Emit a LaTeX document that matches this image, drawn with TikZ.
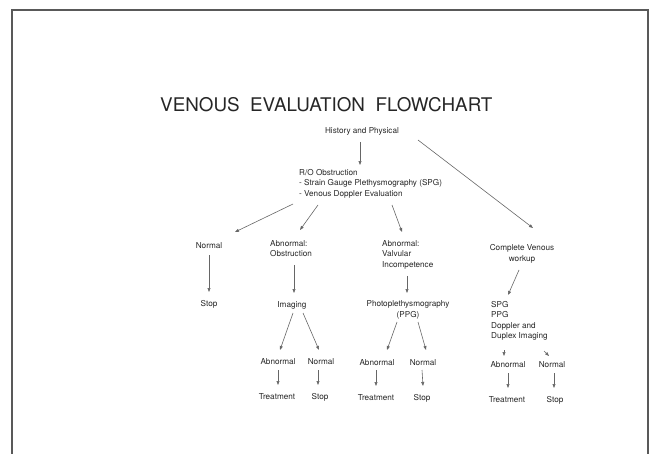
\documentclass[tikz,border=0pt]{standalone}
\usepackage{fontspec}
\setmainfont{TeX Gyre Heros}
\usetikzlibrary{arrows.meta}
\begin{document}
\begin{tikzpicture}[x=1bp,y=-1bp,
  txt/.style={inner sep=0pt,font=\fontsize{8.2}{10.6}\selectfont,text=black!85},
  blk/.style={txt,align=left,anchor=north west},
  ctr/.style={txt,align=center},
  arr/.style={draw=black!60,line width=0.6pt,-{Triangle[length=4pt,width=3pt]}}]
\useasboundingbox (0,0) rectangle (651,454);
\draw[black!65,line width=1.2pt] (12,454) -- (12,10) -- (648,10) -- (648,454);
\node[txt,font=\fontsize{18.9}{22}\selectfont,anchor=base west] (title) at (160,112) {VENOUS\ \ EVALUATION\ \ FLOWCHART};
\node[ctr] (hp) at (362,131) {History and Physical};
\node[blk] (ro) at (299,169) {R/O Obstruction\\- Strain Gauge Plethysmography (SPG)\\- Venous Doppler Evaluation};
\node[ctr] (n1) at (209,246) {Normal};
\node[ctr] (s1) at (209,304) {Stop};
\node[blk] (ao) at (270,240) {Abnormal:\\Obstruction};
\node[ctr] (im) at (292,305) {Imaging};
\node[ctr] (a2) at (278,362) {Abnormal};
\node[ctr] (n2) at (321,362) {Normal};
\node[ctr] (t2) at (277,397) {Treatment};
\node[ctr] (s2) at (320,397) {Stop};
\node[blk] (av) at (382,240) {Abnormal:\\Valvular\\Incompetence};
\node[ctr] (ppg) at (408,310) {Photoplethysmography\\(PPG)};
\node[ctr] (a3) at (377,363) {Abnormal};
\node[ctr] (n3) at (423,363) {Normal};
\node[ctr] (t3) at (376,398) {Treatment};
\node[ctr] (s3) at (422,398) {Stop};
\node[ctr] (cv) at (522,254) {Complete Venous\\workup};
\node[blk] (spg) at (491,301) {SPG\\PPG\\Doppler and\\Duplex Imaging};
\node[ctr] (a4) at (508,365) {Abnormal};
\node[ctr] (n4) at (552,365) {Normal};
\node[ctr] (t4) at (507,400) {Treatment};
\node[ctr] (s4) at (555,400) {Stop};
% connectors
\coordinate (hpS) at (360,142);
\coordinate (hpE) at (418,140);
\draw[arr] (hpS) -- (360,165);
\draw[arr] (hpE) -- (533,228);
\draw[arr] (293,204) -- (235,232);
\draw[arr] (318,205) -- (300,230);
\draw[arr] (392,205) -- (402,232);
\draw[arr] (n1.south) ++(0,6) -- (209,292);
\draw[arr] (294,265) -- (294,293);
\draw[arr] (293,313) -- (280,350);
\draw[arr] (303,313) -- (319,350);
\draw[arr] (278,370) -- (278,385);
\draw[arr] (318,370) -- (318,385);
\draw[arr] (407,276) -- (407,293);
\draw[arr] (397,322) -- (387,350);
\draw[arr] (418,322) -- (426,350);
\draw[arr] (376,370) -- (376,386);
\draw[arr] (422,370) -- (423,386);
\draw[arr] (519,270) -- (508,295);
\draw[arr] (504,350) -- (504,356);
\draw[arr] (544,351) -- (549,356);
\draw[arr] (508,373) -- (508,388);
\draw[arr] (554,373) -- (554,388);
\end{tikzpicture}
\end{document}
